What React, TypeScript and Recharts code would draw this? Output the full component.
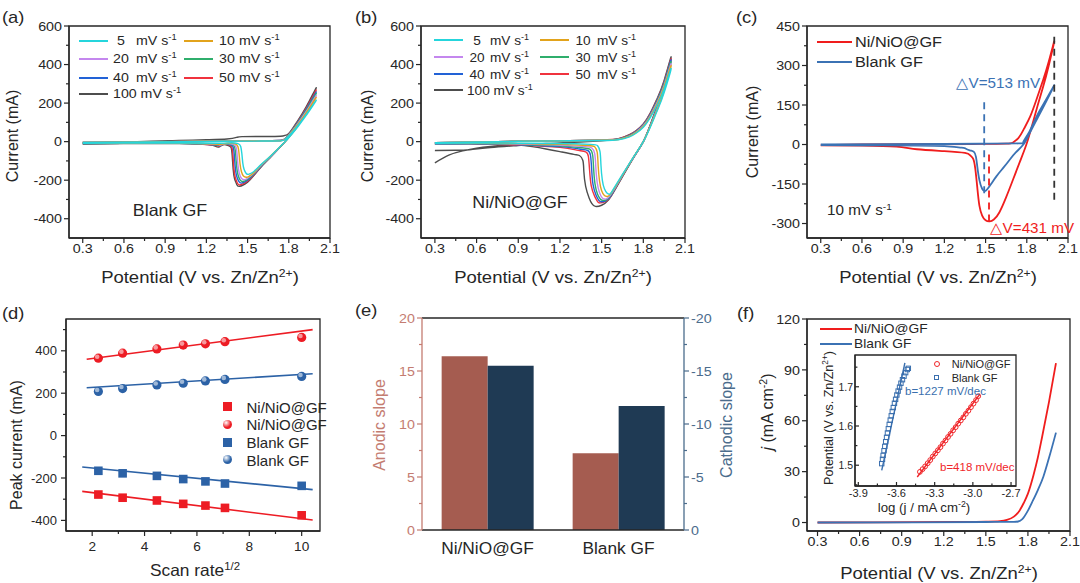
import React from "react";
import {
  LineChart,
  Line,
  ComposedChart,
  Scatter,
  BarChart,
  Bar,
  XAxis,
  YAxis,
  ReferenceArea,
  ReferenceLine,
} from "recharts";

const SANS = '"Liberation Sans", Arial, Helvetica, sans-serif';
const INK = "#262626";

// ---------- tick values ----------
const potentialTicks = [0.3, 0.6, 0.9, 1.2, 1.5, 1.8, 2.1];
const potentialMinor = [0.45, 0.75, 1.05, 1.35, 1.65, 1.95];
const currentTicksAB = [-400, -200, 0, 200, 400, 600];
const currentMinorAB = [-300, -100, 100, 300, 500];
const currentTicksC = [-300, -150, 0, 150, 300, 450];
const currentMinorC = [-225, -75, 75, 225, 375];
const scanTicks = [2, 4, 6, 8, 10];
const scanMinor = [3, 5, 7, 9];
const peakTicks = [-400, -200, 0, 200, 400];
const peakMinor = [-300, -100, 100, 300, 500];
const anodicTicks = [0, 5, 10, 15, 20];
const anodicMinor = [2.5, 7.5, 12.5, 17.5];
const cathodicTicks = [-20, -15, -10, -5, 0];
const cathodicMinor = [-17.5, -12.5, -7.5, -2.5];
const jTicks = [0, 30, 60, 90, 120];
const jMinor = [15, 45, 75, 105];
const logjTicks = [-3.9, -3.6, -3.3, -3.0, -2.7];
const logjMinor = [-3.75, -3.45, -3.15, -2.85];
const tafelTicks = [1.5, 1.6, 1.7];
const tafelMinor = [1.45, 1.55, 1.65, 1.75];

// ---------- (a) Blank GF CV at different scan rates: [potential, current] ----------
const scanRates = ["5", "10", "20", "30", "40", "50", "100"];
const rateColors = ["#25d5dc", "#e2a31c", "#c487ee", "#2fae6c", "#2262d6", "#f0323e", "#4d4d4d"];

const blank5 = [[0.3,-4],[0.8,-2],[1.2,1],[1.6,3],[1.74,4],[1.77,10],[1.8,30],[1.85,70],[1.9,115],[1.95,165],[2.0,215],[1.95,160],[1.9,110],[1.85,62],[1.8,20],[1.773,0],[1.72,-38],[1.66,-80],[1.6,-118],[1.55,-152],[1.52,-166],[1.505,-170],[1.49,-165],[1.475,-145],[1.465,-110],[1.458,-60],[1.45,-25],[1.43,-10],[1.38,-6],[1.3,-8],[1.0,-7],[0.6,-7],[0.3,-9]];
const blank10 = [[0.3,-4],[0.8,-1],[1.2,2],[1.6,4],[1.74,5],[1.77,11],[1.8,32],[1.85,75],[1.9,122],[1.95,175],[2.0,230],[1.95,170],[1.9,116],[1.85,65],[1.8,21],[1.773,0],[1.72,-38],[1.66,-80],[1.6,-120],[1.55,-157],[1.51,-180],[1.49,-185],[1.47,-178],[1.455,-155],[1.445,-115],[1.438,-62],[1.43,-26],[1.41,-12],[1.36,-8],[1.3,-14],[1.27,-12],[1.0,-7],[0.6,-7],[0.3,-9]];
const blank20 = [[0.3,-4],[0.8,-1],[1.2,2],[1.6,5],[1.74,6],[1.77,12],[1.8,34],[1.85,78],[1.9,128],[1.95,182],[2.0,240],[1.95,178],[1.9,121],[1.85,68],[1.8,22],[1.773,0],[1.72,-39],[1.66,-82],[1.6,-122],[1.55,-160],[1.5,-190],[1.475,-198],[1.455,-190],[1.44,-165],[1.43,-122],[1.423,-62],[1.415,-26],[1.395,-14],[1.35,-10],[1.3,-18],[1.27,-14],[1.0,-7],[0.6,-7],[0.3,-9]];
const blank30 = [[0.3,-4],[0.8,-1],[1.2,2],[1.6,5],[1.74,6],[1.77,12],[1.8,35],[1.85,81],[1.9,133],[1.95,190],[2.0,250],[1.95,186],[1.9,126],[1.85,70],[1.8,23],[1.773,0],[1.72,-39],[1.66,-83],[1.6,-124],[1.55,-163],[1.5,-195],[1.465,-207],[1.445,-198],[1.43,-172],[1.42,-126],[1.413,-64],[1.405,-27],[1.385,-15],[1.34,-12],[1.3,-20],[1.27,-16],[1.0,-8],[0.6,-8],[0.3,-10]];
const blank40 = [[0.3,-4],[0.8,-1],[1.2,2],[1.6,5],[1.74,6],[1.77,13],[1.8,36],[1.85,84],[1.9,137],[1.95,196],[2.0,258],[1.95,192],[1.9,130],[1.85,72],[1.8,24],[1.773,0],[1.72,-40],[1.66,-84],[1.6,-126],[1.55,-166],[1.5,-200],[1.455,-215],[1.435,-205],[1.42,-178],[1.41,-130],[1.403,-66],[1.395,-28],[1.375,-16],[1.33,-13],[1.3,-22],[1.27,-18],[1.0,-8],[0.6,-8],[0.3,-10]];
const blank50 = [[0.3,-4],[0.8,-1],[1.2,2],[1.6,5],[1.74,6],[1.77,13],[1.8,37],[1.85,87],[1.9,142],[1.95,203],[2.0,268],[1.95,198],[1.9,134],[1.85,74],[1.8,25],[1.773,0],[1.72,-40],[1.66,-85],[1.6,-128],[1.55,-169],[1.5,-205],[1.445,-225],[1.425,-214],[1.41,-185],[1.4,-136],[1.393,-68],[1.385,-29],[1.365,-17],[1.33,-14],[1.3,-24],[1.27,-20],[1.0,-8],[0.6,-8],[0.3,-10]];
const blank100 = [[0.3,-8],[0.5,-4],[0.8,2],[1.0,6],[1.2,10],[1.35,14],[1.42,22],[1.46,26],[1.6,27],[1.74,28],[1.77,32],[1.8,42],[1.85,92],[1.9,148],[1.95,212],[2.0,280],[1.95,205],[1.9,138],[1.85,76],[1.8,26],[1.773,0],[1.72,-41],[1.66,-86],[1.6,-130],[1.55,-172],[1.5,-210],[1.44,-232],[1.42,-220],[1.405,-192],[1.395,-142],[1.388,-72],[1.38,-31],[1.36,-20],[1.32,-16],[1.29,-28],[1.26,-22],[1.2,-12],[1.0,-10],[0.6,-10],[0.3,-12]];

// ---------- (b) Ni/NiO@GF CV ----------
const ni5 = [[0.3,-5],[0.6,-2],[0.9,2],[1.2,4],[1.5,6],[1.62,10],[1.7,25],[1.75,45],[1.8,75],[1.85,125],[1.9,190],[1.95,275],[2.0,380],[1.95,255],[1.9,160],[1.85,75],[1.8,0],[1.75,-57],[1.7,-113],[1.65,-170],[1.6,-228],[1.575,-258],[1.56,-272],[1.54,-268],[1.52,-245],[1.505,-200],[1.495,-120],[1.488,-50],[1.47,-20],[1.42,-14],[1.2,-10],[0.9,-8],[0.6,-7],[0.3,-8]];
const ni10 = [[0.3,-5],[0.6,-2],[0.9,2],[1.2,4],[1.5,7],[1.62,11],[1.7,27],[1.75,48],[1.8,79],[1.85,130],[1.9,198],[1.95,285],[2.0,395],[1.95,265],[1.9,166],[1.85,78],[1.8,0],[1.75,-57],[1.7,-114],[1.65,-172],[1.6,-232],[1.56,-275],[1.54,-285],[1.52,-280],[1.5,-255],[1.485,-205],[1.475,-125],[1.468,-55],[1.45,-26],[1.4,-20],[1.2,-14],[0.9,-10],[0.6,-8],[0.3,-9]];
const ni20 = [[0.3,-5],[0.6,-2],[0.9,2],[1.2,4],[1.5,7],[1.62,12],[1.7,29],[1.75,50],[1.8,82],[1.85,134],[1.9,204],[1.95,292],[2.0,405],[1.95,272],[1.9,170],[1.85,80],[1.8,0],[1.75,-58],[1.7,-115],[1.65,-174],[1.6,-236],[1.55,-288],[1.525,-298],[1.505,-292],[1.485,-265],[1.468,-212],[1.458,-130],[1.45,-62],[1.43,-33],[1.38,-26],[1.2,-18],[0.9,-12],[0.6,-9],[0.3,-10]];
const ni30 = [[0.3,-6],[0.6,-3],[0.9,2],[1.2,4],[1.5,8],[1.62,13],[1.7,31],[1.75,52],[1.8,85],[1.85,138],[1.9,210],[1.95,300],[2.0,415],[1.95,279],[1.9,174],[1.85,82],[1.8,0],[1.75,-58],[1.7,-116],[1.65,-176],[1.6,-238],[1.55,-292],[1.51,-305],[1.49,-298],[1.47,-272],[1.452,-218],[1.442,-135],[1.435,-68],[1.415,-39],[1.36,-32],[1.2,-22],[0.9,-14],[0.6,-10],[0.3,-11]];
const ni40 = [[0.3,-6],[0.6,-3],[0.9,2],[1.2,4],[1.5,8],[1.62,14],[1.7,33],[1.75,55],[1.8,88],[1.85,142],[1.9,215],[1.95,306],[2.0,425],[1.95,285],[1.9,178],[1.85,84],[1.8,0],[1.75,-59],[1.7,-117],[1.65,-178],[1.6,-240],[1.55,-296],[1.5,-312],[1.48,-305],[1.46,-278],[1.438,-222],[1.428,-140],[1.42,-72],[1.4,-46],[1.34,-38],[1.2,-26],[0.9,-16],[0.6,-11],[0.3,-12]];
const ni50 = [[0.3,-6],[0.6,-3],[0.9,2],[1.2,4],[1.5,8],[1.62,15],[1.7,35],[1.75,57],[1.8,90],[1.85,145],[1.9,219],[1.95,311],[2.0,430],[1.95,289],[1.9,181],[1.85,85],[1.8,0],[1.75,-59],[1.7,-118],[1.65,-180],[1.6,-242],[1.55,-299],[1.49,-318],[1.47,-310],[1.45,-284],[1.425,-228],[1.413,-145],[1.405,-78],[1.385,-53],[1.32,-44],[1.2,-30],[0.9,-18],[0.6,-12],[0.3,-13]];
const ni100 = [[0.3,-46],[0.45,-45],[0.55,-42],[0.7,-31],[0.9,-20],[1.1,-10],[1.3,-3],[1.5,4],[1.62,14],[1.7,36],[1.75,58],[1.8,92],[1.85,148],[1.9,224],[1.95,318],[2.0,440],[1.95,295],[1.9,185],[1.85,87],[1.8,0],[1.75,-60],[1.7,-120],[1.65,-182],[1.6,-245],[1.55,-302],[1.5,-330],[1.455,-336],[1.43,-322],[1.41,-292],[1.385,-232],[1.372,-155],[1.365,-98],[1.34,-72],[1.3,-66],[1.2,-52],[1.1,-38],[1.0,-26],[0.9,-18],[0.8,-19],[0.7,-25],[0.6,-34],[0.5,-48],[0.4,-70],[0.3,-110]];

// ---------- (c) 10 mV/s comparison ----------
const cvNi10 = [[0.3,-2],[0.6,0],[1.0,1],[1.4,2],[1.65,3],[1.7,8],[1.74,25],[1.78,60],[1.825,107],[1.87,170],[1.92,247],[1.96,315],[2.0,392],[1.96,300],[1.92,221],[1.88,150],[1.84,75],[1.797,0],[1.75,-65],[1.7,-133],[1.65,-200],[1.6,-258],[1.56,-285],[1.53,-292],[1.5,-288],[1.475,-270],[1.455,-232],[1.44,-165],[1.425,-92],[1.41,-55],[1.39,-42],[1.35,-32],[1.2,-25],[1.0,-18],[0.85,-8],[0.6,-4],[0.3,-3]];
const cvBlank10 = [[0.3,0],[0.8,1],[1.2,2],[1.5,3],[1.74,4],[1.775,10],[1.82,50],[1.88,115],[1.94,170],[2.0,225],[1.94,162],[1.88,102],[1.82,42],[1.775,0],[1.72,-30],[1.677,-57],[1.63,-88],[1.58,-120],[1.54,-150],[1.515,-168],[1.495,-177],[1.475,-168],[1.455,-135],[1.44,-85],[1.43,-47],[1.415,-28],[1.385,-22],[1.35,-14],[1.325,-12],[1.2,-6],[1.0,-4],[0.6,-3],[0.3,-2]];

// ---------- (d) peak current vs sqrt(scan rate) ----------
const scanRoot = [2.236, 3.162, 4.472, 5.477, 6.325, 7.071, 10];
const niAnodic = [365, 389, 409, 427, 433, 443, 463];
const niCathodic = [-278, -293, -306, -322, -330, -341, -376];
const blankAnodic = [208, 222, 239, 247, 258, 265, 279];
const blankCathodic = [-166, -178, -190, -205, -216, -226, -237];
const fitNiAnodic = [[1.79, 360], [10.42, 500]];
const fitNiCathodic = [[1.62, -263], [10.42, -398]];
const fitBlankAnodic = [[1.79, 226], [10.42, 292]];
const fitBlankCathodic = [[1.62, -148], [10.42, -255]];

// ---------- (e) slopes ----------
const slopeCats = ["Ni/NiO@GF", "Blank GF"];
const anodicSlope = [16.4, 7.25];
const cathodicSlope = [-15.5, -11.7];

// ---------- (f) LSV + Tafel inset ----------
const lsvNi = [[0.3,0],[0.7,0.1],[1.0,0.2],[1.3,0.3],[1.5,0.5],[1.6,0.8],[1.65,1.5],[1.7,3.5],[1.74,7],[1.77,11.5],[1.8,17],[1.84,28],[1.87,38],[1.9,50],[1.95,71],[2.0,94]];
const lsvBlank = [[0.3,0],[1.0,0.1],[1.5,0.3],[1.7,0.4],[1.73,0.6],[1.76,2],[1.8,7],[1.83,12],[1.87,19],[1.91,27],[1.95,38],[2.0,53]];
const tafelBlank = [[-3.716,1.504],[-3.71,1.515],[-3.705,1.525],[-3.698,1.537],[-3.692,1.548],[-3.685,1.56],[-3.678,1.571],[-3.671,1.582],[-3.664,1.593],[-3.657,1.604],[-3.649,1.615],[-3.641,1.626],[-3.633,1.637],[-3.625,1.647],[-3.616,1.658],[-3.607,1.668],[-3.597,1.679],[-3.587,1.689],[-3.576,1.699],[-3.565,1.709],[-3.553,1.718],[-3.541,1.727],[-3.528,1.736],[-3.515,1.744],[-3.507,1.747]];
const tafelNi = [[-3.416,1.483],[-3.395,1.49],[-3.375,1.497],[-3.355,1.505],[-3.335,1.513],[-3.315,1.522],[-3.295,1.53],[-3.275,1.538],[-3.255,1.546],[-3.235,1.555],[-3.215,1.563],[-3.195,1.572],[-3.175,1.58],[-3.155,1.589],[-3.135,1.597],[-3.115,1.606],[-3.095,1.614],[-3.075,1.622],[-3.055,1.631],[-3.035,1.639],[-3.015,1.648],[-2.995,1.657],[-2.975,1.666],[-2.958,1.676]];
const tafelFitBlank = [[-3.716, 1.487], [-3.534, 1.761]];
const tafelFitNi = [[-3.437, 1.47], [-2.945, 1.681]];

// ---------- helpers ----------
const pts = (a: number[][]) => a.map(([x, y]) => ({ x, y }));
const zipPts = (xs: number[], ys: number[]) => xs.map((x, i) => ({ x, y: ys[i] }));
const f1 = (v: number) => v.toFixed(1);
const fi = (v: number) => String(v);
const near = (list: number[], v: number) => list.some((m) => Math.abs(m - v) < 1e-9);

const RED = "#f01d1d";
const BLUE = "#3b72b4";
const BROWN = "#a55c50";
const NAVY = "#1f3a54";
const BROWN_AX = "#c47c71";
const NAVY_AX = "#4b6c8c";

type TickOpt = { major: number[]; fmt?: (v: number) => string; size?: number; color?: string; sx?: number; off?: number; inward?: boolean; len?: number };

const xTick = (o: TickOpt) => (p: any) => {
  const v = Number(p.payload.value);
  const big = near(o.major, v);
  const c = o.color ?? INK;
  const L = (o.len ?? 5) * (big ? 1 : 0.6) * (o.inward ? -1 : 1);
  return (
    <g>
      <line x1={p.x} x2={p.x} y1={p.y} y2={p.y + L} stroke={c} strokeWidth={1.2} />
      {big && (
        <text transform={`translate(${p.x},${p.y + (o.off ?? 15)}) scale(${o.sx ?? 1.1},1)`} textAnchor="middle" fontSize={o.size ?? 13} fill={c} fontFamily={SANS}>
          {(o.fmt ?? fi)(v)}
        </text>
      )}
    </g>
  );
};

const yTick = (o: TickOpt, right = false) => (p: any) => {
  const v = Number(p.payload.value);
  const big = near(o.major, v);
  const c = o.color ?? INK;
  const s = right ? 1 : -1;
  const L = (o.len ?? 5) * (big ? 1 : 0.6) * (o.inward ? -1 : 1);
  const size = o.size ?? 13;
  return (
    <g>
      <line x1={p.x} x2={p.x + s * L} y1={p.y} y2={p.y} stroke={c} strokeWidth={1.2} />
      {big && (
        <text transform={`translate(${p.x + s * (o.off ?? 7)},${p.y + size * 0.36}) scale(${o.sx ?? 1.1},1)`} textAnchor={right ? "start" : "end"} fontSize={size} fill={c} fontFamily={SANS}>
          {(o.fmt ?? fi)(v)}
        </text>
      )}
    </g>
  );
};

const catTick = (p: any) => (
  <text transform={`translate(${p.x},${p.y + 24}) scale(1.05,1)`} textAnchor="middle" fontSize={16.5} fill={INK} fontFamily={SANS}>
    {p.payload.value}
  </text>
);

type Box = { l: number; t: number; r: number; b: number };
const YW = 60;
const XH = 40;
const PAD = 12;
const geo = (b: Box, yw = YW, xh = XH, rw = 12) => ({
  style: { position: "absolute" as const, left: b.l - yw, top: b.t - PAD },
  width: b.r - b.l + yw + rw,
  height: b.b - b.t + PAD + xh,
  margin: { top: PAD, right: rw, bottom: 0, left: 0 },
});
const AX = { stroke: INK, strokeWidth: 1.3 };

const Sup = ({ children }: any) => (
  <span style={{ fontSize: "0.66em", position: "relative", top: "-0.55em" }}>{children}</span>
);

function T({ x, y, children, size = 15, color = INK, anchor = "middle", sx = 1, rot = false }: any) {
  const origin = anchor === "start" ? "left center" : anchor === "end" ? "right center" : "center center";
  const tx = anchor === "start" ? "0" : anchor === "end" ? "-100%" : "-50%";
  const transform = rot ? "translate(-50%, -50%) rotate(-90deg)" : `translate(${tx}, -50%) scaleX(${sx})`;
  return (
    <div style={{ position: "absolute", left: x, top: y, fontSize: size, lineHeight: 1, whiteSpace: "nowrap", color, transform, transformOrigin: rot ? "center center" : origin }}>
      {children}
    </div>
  );
}

const Swatch = ({ x1, x2, y, color, w = 2 }: any) => (
  <div style={{ position: "absolute", left: x1, top: y - w / 2, width: x2 - x1, height: w, background: color }} />
);

// ---------- panels ----------
function CVPanel({ box, curves, yDom, yMajor, yMinor }: any) {
  const g = geo(box);
  const order = curves.map((_: any, i: number) => i).reverse();
  return (
    <div style={g.style}>
      <LineChart width={g.width} height={g.height} margin={g.margin}>
        <XAxis type="number" dataKey="x" domain={[0.2, 2.1]} allowDataOverflow ticks={[...potentialTicks, ...potentialMinor]} interval={0} tickSize={0} tickMargin={0} tickLine={false} axisLine={AX} tick={xTick({ major: potentialTicks, fmt: f1 })} height={XH} />
        <YAxis type="number" domain={yDom} allowDataOverflow ticks={[...yMajor, ...yMinor]} interval={0} tickSize={0} tickMargin={0} tickLine={false} axisLine={AX} tick={yTick({ major: yMajor })} width={YW} />
        <ReferenceArea x1={0.2} x2={2.1} y1={yDom[0]} y2={yDom[1]} fill="none" stroke={INK} strokeWidth={1.3} ifOverflow="visible" />
        {order.map((i: number) => (
          <Line key={i} data={pts(curves[i])} dataKey="y" type="natural" stroke={rateColors[i]} strokeWidth={1.4} dot={false} isAnimationActive={false} />
        ))}
      </LineChart>
    </div>
  );
}

function RateLegend({ lines, num, unit, rows, last, size = 13.5 }: any) {
  return (
    <>
      {scanRates.map((r, i) => {
        const row = Math.floor(i / 2);
        const col = i % 2;
        const y = rows[row];
        if (i === 6) {
          return (
            <React.Fragment key={r}>
              <Swatch x1={lines[0][0]} x2={lines[0][1]} y={y} color={rateColors[i]} />
              <T x={last} y={y} size={size} anchor="start" sx={1.05}>
                {r} mV s<Sup>-1</Sup>
              </T>
            </React.Fragment>
          );
        }
        return (
          <React.Fragment key={r}>
            <Swatch x1={lines[col][0]} x2={lines[col][1]} y={y} color={rateColors[i]} />
            <T x={num[col]} y={y} size={size} sx={1.05}>{r}</T>
            <T x={unit[col]} y={y} size={size} anchor="start" sx={1.05}>
              mV s<Sup>-1</Sup>
            </T>
          </React.Fragment>
        );
      })}
    </>
  );
}

const BOX_A = { l: 69, t: 26, r: 330, b: 238 };
const BOX_B = { l: 421, t: 26, r: 685, b: 238 };
const BOX_C = { l: 807, t: 26, r: 1068, b: 238 };
const BOX_D = { l: 66, t: 319, r: 320, b: 531 };
const BOX_E = { l: 422, t: 318, r: 684, b: 530 };
const BOX_F = { l: 807, t: 319, r: 1070, b: 531 };
const BOX_IN = { l: 855, t: 355, r: 1016, b: 486 };

function PanelC() {
  const g = geo(BOX_C);
  const dom = [-355, 450];
  return (
    <div style={g.style}>
      <LineChart width={g.width} height={g.height} margin={g.margin}>
        <XAxis type="number" dataKey="x" domain={[0.2, 2.1]} allowDataOverflow ticks={[...potentialTicks, ...potentialMinor]} interval={0} tickSize={0} tickMargin={0} tickLine={false} axisLine={AX} tick={xTick({ major: potentialTicks, fmt: f1 })} height={XH} />
        <YAxis type="number" domain={dom} allowDataOverflow ticks={[...currentTicksC, ...currentMinorC]} interval={0} tickSize={0} tickMargin={0} tickLine={false} axisLine={AX} tick={yTick({ major: currentTicksC })} width={YW} />
        <ReferenceArea x1={0.2} x2={2.1} y1={dom[0]} y2={dom[1]} fill="none" stroke={INK} strokeWidth={1.3} ifOverflow="visible" />
        <Line data={pts(cvNi10)} dataKey="y" type="natural" stroke={RED} strokeWidth={1.8} dot={false} isAnimationActive={false} />
        <Line data={pts(cvBlank10)} dataKey="y" type="natural" stroke={BLUE} strokeWidth={1.8} dot={false} isAnimationActive={false} />
        <ReferenceLine segment={[{ x: 1.49, y: -185 }, { x: 1.49, y: 170 }]} stroke={BLUE} strokeWidth={1.8} strokeDasharray="7 5" />
        <ReferenceLine segment={[{ x: 1.525, y: -292 }, { x: 1.525, y: -22 }]} stroke={RED} strokeWidth={1.8} strokeDasharray="7 5" />
        <ReferenceLine segment={[{ x: 2.0, y: -210 }, { x: 2.0, y: 415 }]} stroke="#333" strokeWidth={1.8} strokeDasharray="7 5" />
      </LineChart>
    </div>
  );
}

const Square = (color: string) => (p: any) => <rect x={p.cx - 4.3} y={p.cy - 4.3} width={8.6} height={8.6} fill={color} />;
const Ball = (color: string) => (p: any) => (
  <g>
    <circle cx={p.cx} cy={p.cy} r={4.6} fill={color} />
    <circle cx={p.cx - 1.2} cy={p.cy - 1.5} r={2.3} fill="#fff" opacity={0.55} />
  </g>
);
const D_RED = "#ed1c24";
const D_BLUE = "#2c62a6";

function PanelD() {
  const g = geo(BOX_D);
  const dom = [-450, 550];
  const fits = [
    [fitNiAnodic, D_RED],
    [fitNiCathodic, D_RED],
    [fitBlankAnodic, D_BLUE],
    [fitBlankCathodic, D_BLUE],
  ] as const;
  return (
    <div style={g.style}>
      <ComposedChart width={g.width} height={g.height} margin={g.margin}>
        <XAxis type="number" dataKey="x" domain={[1, 10.7]} allowDataOverflow ticks={[...scanTicks, ...scanMinor]} interval={0} tickSize={0} tickMargin={0} tickLine={false} axisLine={AX} tick={xTick({ major: scanTicks, off: 20, sx: 1.05 })} height={XH} />
        <YAxis type="number" dataKey="y" domain={dom} allowDataOverflow ticks={[...peakTicks, ...peakMinor]} interval={0} tickSize={0} tickMargin={0} tickLine={false} axisLine={AX} tick={yTick({ major: peakTicks, off: 9, sx: 1.0 })} width={YW} />
        <ReferenceArea x1={1} x2={10.7} y1={dom[0]} y2={dom[1]} fill="none" stroke={INK} strokeWidth={1.3} ifOverflow="visible" />
        {fits.map(([f, c], i) => (
          <Line key={i} data={pts(f as any)} dataKey="y" type="linear" stroke={c} strokeWidth={1.6} dot={false} isAnimationActive={false} />
        ))}
        <Scatter data={zipPts(scanRoot, niAnodic)} shape={Ball(D_RED)} isAnimationActive={false} />
        <Scatter data={zipPts(scanRoot, niCathodic)} shape={Square(D_RED)} isAnimationActive={false} />
        <Scatter data={zipPts(scanRoot, blankAnodic)} shape={Ball(D_BLUE)} isAnimationActive={false} />
        <Scatter data={zipPts(scanRoot, blankCathodic)} shape={Square(D_BLUE)} isAnimationActive={false} />
      </ComposedChart>
    </div>
  );
}

function PanelE() {
  const RW = 50;
  const g = {
    style: { position: "absolute" as const, left: BOX_E.l - YW, top: BOX_E.t - PAD },
    width: BOX_E.r - BOX_E.l + YW + RW,
    height: BOX_E.b - BOX_E.t + PAD + XH,
  };
  const rows = slopeCats.map((name, i) => ({ name, anodic: anodicSlope[i], cathodic: cathodicSlope[i] }));
  return (
    <div style={g.style}>
      <BarChart width={g.width} height={g.height} margin={{ top: PAD, right: 0, bottom: 0, left: 0 }} data={rows} barGap={0} barCategoryGap="15%">
        <XAxis dataKey="name" type="category" interval={0} tickSize={0} tickMargin={0} tickLine={false} axisLine={AX} tick={catTick} height={XH} />
        <YAxis yAxisId="l" type="number" domain={[0, 20]} allowDataOverflow ticks={[...anodicTicks, ...anodicMinor]} interval={0} tickSize={0} tickMargin={0} tickLine={false} axisLine={{ stroke: BROWN_AX, strokeWidth: 1.3 }} tick={yTick({ major: anodicTicks, color: BROWN_AX })} width={YW} />
        <YAxis yAxisId="r" orientation="right" type="number" domain={[-20, 0]} reversed allowDataOverflow ticks={[...cathodicTicks, ...cathodicMinor]} interval={0} tickSize={0} tickMargin={0} tickLine={false} axisLine={{ stroke: NAVY_AX, strokeWidth: 1.3 }} tick={yTick({ major: cathodicTicks, color: NAVY_AX }, true)} width={RW} />
        <ReferenceLine yAxisId="l" y={20} stroke={INK} strokeWidth={1.3} />
        <Bar yAxisId="l" dataKey="anodic" fill={BROWN} isAnimationActive={false} />
        <Bar yAxisId="r" dataKey="cathodic" fill={NAVY} isAnimationActive={false} />
      </BarChart>
    </div>
  );
}

function PanelF() {
  const g = geo(BOX_F);
  const dom = [-5, 120];
  const xd = [0.225, 2.1];
  return (
    <div style={g.style}>
      <LineChart width={g.width} height={g.height} margin={g.margin}>
        <XAxis type="number" dataKey="x" domain={xd} allowDataOverflow ticks={[...potentialTicks, ...potentialMinor]} interval={0} tickSize={0} tickMargin={0} tickLine={false} axisLine={AX} tick={xTick({ major: potentialTicks, fmt: f1 })} height={XH} />
        <YAxis type="number" domain={dom} allowDataOverflow ticks={[...jTicks, ...jMinor]} interval={0} tickSize={0} tickMargin={0} tickLine={false} axisLine={AX} tick={yTick({ major: jTicks })} width={YW} />
        <ReferenceArea x1={xd[0]} x2={xd[1]} y1={dom[0]} y2={dom[1]} fill="none" stroke={INK} strokeWidth={1.3} ifOverflow="visible" />
        <Line data={pts(lsvNi)} dataKey="y" type="monotone" stroke={RED} strokeWidth={1.8} dot={false} isAnimationActive={false} />
        <Line data={pts(lsvBlank)} dataKey="y" type="monotone" stroke={BLUE} strokeWidth={1.8} dot={false} isAnimationActive={false} />
      </LineChart>
    </div>
  );
}

const OpenSquare = (color: string) => (p: any) => <rect x={p.cx - 2.2} y={p.cy - 2.2} width={4.4} height={4.4} fill="none" stroke={color} strokeWidth={1} />;
const OpenCircle = (color: string) => (p: any) => <circle cx={p.cx} cy={p.cy} r={2.4} fill="none" stroke={color} strokeWidth={1} />;
const IN_RED = "#f0262a";
const IN_BLUE = "#3a6fae";

function Inset() {
  const yw = 40;
  const xh = 26;
  const g = geo(BOX_IN, yw, xh, 8);
  const xd = [-3.926, -2.661];
  const yd = [1.447, 1.781];
  return (
    <div style={g.style}>
      <ComposedChart width={g.width} height={g.height} margin={g.margin}>
        <XAxis type="number" dataKey="x" domain={xd} allowDataOverflow ticks={[...logjTicks, ...logjMinor]} interval={0} tickSize={0} tickMargin={0} tickLine={false} axisLine={AX} tick={xTick({ major: logjTicks, fmt: f1, size: 10.5, sx: 1.05, off: 10.5, inward: true, len: 4 })} height={xh} />
        <YAxis type="number" dataKey="y" domain={yd} allowDataOverflow ticks={[...tafelTicks, ...tafelMinor]} interval={0} tickSize={0} tickMargin={0} tickLine={false} axisLine={AX} tick={yTick({ major: tafelTicks, fmt: f1, size: 10.5, sx: 1.0, off: 2, inward: true, len: 4 })} width={yw} />
        <ReferenceArea x1={xd[0]} x2={xd[1]} y1={yd[0]} y2={yd[1]} fill="none" stroke={INK} strokeWidth={1.3} ifOverflow="visible" />
        <Scatter data={pts(tafelBlank)} shape={OpenSquare(IN_BLUE)} isAnimationActive={false} />
        <Scatter data={pts(tafelNi)} shape={OpenCircle(IN_RED)} isAnimationActive={false} />
        <Line data={pts(tafelFitBlank)} dataKey="y" type="linear" stroke={IN_BLUE} strokeWidth={1.4} dot={false} isAnimationActive={false} />
        <Line data={pts(tafelFitNi)} dataKey="y" type="linear" stroke={IN_RED} strokeWidth={1.4} dot={false} isAnimationActive={false} />
      </ComposedChart>
    </div>
  );
}

const potentialTitle = (
  <>
    Potential (V vs. Zn/Zn<Sup>2+</Sup>)
  </>
);

export default function App() {
  return (
    <div style={{ position: "absolute", left: 0, top: 0, width: 1080, height: 583, background: "#fff", overflow: "hidden", fontFamily: SANS, color: INK }}>
      {/* (a) */}
      <CVPanel box={BOX_A} curves={[blank5, blank10, blank20, blank30, blank40, blank50, blank100]} yDom={[-500, 600]} yMajor={currentTicksAB} yMinor={currentMinorAB} />
      <RateLegend lines={[[79, 108], [184, 213]]} num={[121, 226.5]} unit={[136, 239]} rows={[40.7, 59.3, 77.7, 94]} last={112.7} />
      <T x={170} y={210} size={16.5} sx={1.08}>Blank GF</T>
      <T x={13} y={136} size={16} rot>Current (mA)</T>
      <T x={200} y={277} size={16.5} sx={1.12}>{potentialTitle}</T>
      <T x={2} y={17} size={17} anchor="start" sx={1.08}>(a)</T>

      {/* (b) */}
      <CVPanel box={BOX_B} curves={[ni5, ni10, ni20, ni30, ni40, ni50, ni100]} yDom={[-500, 600]} yMajor={currentTicksAB} yMinor={currentMinorAB} />
      <RateLegend lines={[[434, 463], [540, 569]]} num={[477, 583]} unit={[490, 597]} rows={[40, 57, 73.5, 90]} last={467.3} size={13} />
      <T x={519.5} y={201.7} size={16.5} sx={1.08}>Ni/NiO@GF</T>
      <T x={368} y={136} size={16} rot>Current (mA)</T>
      <T x={553} y={277} size={16.5} sx={1.12}>{potentialTitle}</T>
      <T x={355} y={17} size={17} anchor="start" sx={1.08}>(b)</T>

      {/* (c) */}
      <PanelC />
      <Swatch x1={817} x2={852} y={42.3} color={RED} />
      <Swatch x1={817} x2={852} y={62.3} color={BLUE} />
      <T x={855} y={42.3} size={15.5} anchor="start" sx={1.05}>Ni/NiO@GF</T>
      <T x={855} y={62.3} size={15.5} anchor="start" sx={1.05}>Blank GF</T>
      <T x={998} y={83.3} size={14.5} color={BLUE} sx={1.05}>△V=513 mV</T>
      <T x={990} y={227.5} size={14.5} color={RED} anchor="start" sx={1.05}>△V=431 mV</T>
      <T x={827} y={210} size={14.5} anchor="start" sx={1.05}>
        10 mV s<Sup>-1</Sup>
      </T>
      <T x={752.5} y={132} size={16} rot>Current (mA)</T>
      <T x={938} y={277} size={16.5} sx={1.12}>{potentialTitle}</T>
      <T x={736} y={17} size={17} anchor="start" sx={1.08}>(c)</T>

      {/* (d) */}
      <PanelD />
      {[
        ["sq", D_RED, "Ni/NiO@GF", 406.5],
        ["ball", D_RED, "Ni/NiO@GF", 424],
        ["sq", D_BLUE, "Blank GF", 442],
        ["ball", D_BLUE, "Blank GF", 459.5],
      ].map(([k, c, label, y]: any, i) => (
        <React.Fragment key={i}>
          <div
            style={{
              position: "absolute",
              left: 227 - 4.5,
              top: y - 4.5,
              width: 9,
              height: 9,
              borderRadius: k === "ball" ? "50%" : 0,
              background: k === "ball" ? `radial-gradient(circle at 35% 30%, #ffffff 0%, ${c} 55%)` : c,
            }}
          />
          <T x={246.5} y={y} size={15} anchor="start" sx={1.0}>{label}</T>
        </React.Fragment>
      ))}
      <T x={17} y={445} size={16} rot>Peak current (mA)</T>
      <T x={150} y={570} size={16.5} anchor="start" sx={1.05}>
        Scan rate<Sup>1/2</Sup>
      </T>
      <T x={2} y={312.5} size={17} anchor="start" sx={1.08}>(d)</T>

      {/* (e) */}
      <PanelE />
      <T x={380} y={425} size={16} rot color={BROWN_AX}>Anodic slope</T>
      <T x={727} y={425} size={16} rot color={NAVY_AX}>Cathodic slope</T>
      <T x={355} y={310} size={17} anchor="start" sx={1.08}>(e)</T>

      {/* (f) */}
      <PanelF />
      <Inset />
      <Swatch x1={820} x2={852} y={329} color={RED} />
      <Swatch x1={820} x2={852} y={344.3} color={BLUE} />
      <T x={854} y={329} size={13.5} anchor="start" sx={1.02}>Ni/NiO@GF</T>
      <T x={854} y={344.3} size={13.5} anchor="start" sx={1.02}>Blank GF</T>
      <div style={{ position: "absolute", left: 936.7 - 3, top: 364.3 - 3, width: 6, height: 6, borderRadius: "50%", border: `1.2px solid ${IN_RED}`, boxSizing: "border-box" }} />
      <div style={{ position: "absolute", left: 936.7 - 2.5, top: 377.7 - 2.5, width: 5, height: 5, border: `1.1px solid ${IN_BLUE}`, boxSizing: "border-box" }} />
      <T x={951.7} y={364.3} size={11} anchor="start">Ni/NiO@GF</T>
      <T x={951.7} y={377.7} size={11} anchor="start">Blank GF</T>
      <T x={905} y={391.7} size={11.5} anchor="start" color={IN_BLUE}>b=1227 mV/dec</T>
      <T x={940} y={467.7} size={11.5} anchor="start" color={IN_RED}>b=418 mV/dec</T>
      <T x={829} y={418} size={12.5} rot>{potentialTitle}</T>
      <T x={924} y={507} size={13} sx={1.02}>
        log (j / mA cm<Sup>-2</Sup>)
      </T>
      <T x={767.5} y={411.7} size={16} rot>
        <i>j</i> (mA cm<Sup>-2</Sup>)
      </T>
      <T x={939} y={573.3} size={16.5} sx={1.12}>{potentialTitle}</T>
      <T x={737} y={312.5} size={17} anchor="start" sx={1.08}>(f)</T>
    </div>
  );
}
